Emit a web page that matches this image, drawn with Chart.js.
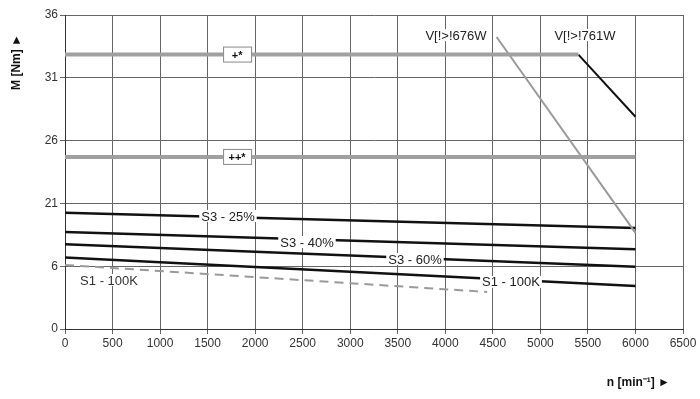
<!DOCTYPE html>
<html>
<head>
<meta charset="utf-8">
<script src="https://cdn.jsdelivr.net/npm/chart.js@4"></script>
<style>
  html, body { margin: 0; padding: 0; background: #fff; }
  #wrap { width: 700px; height: 399px; }
</style>
</head>
<body>
<div id="wrap"><canvas id="myChart" width="700" height="399"></canvas></div>
<script>
// y axis is drawn with evenly spaced grid steps, labelled unevenly (as in the datasheet)
const yTickLabels = ['0', '6', '21', '26', '31', '36'];
const xMax = 6500;

// [rpm, grid step]
const plusStar = [[0, 4.37], [5400, 4.37]];
const plusPlusStar = [[0, 2.74], [6000, 2.74]];
const v676 = [[4540, 4.65], [6000, 1.53]];
const v761 = [[5400, 4.37], [6000, 3.38]];
const s3_25 = [[0, 1.85], [6000, 1.61]];
const s3_40 = [[0, 1.545], [6000, 1.27]];
const s3_60 = [[0, 1.35], [6000, 0.99]];
const s1_100 = [[0, 1.14], [6000, 0.685]];
const s1_100dash = [[0, 1.02], [4440, 0.59]];

// text labels: [text, rpm, grid step, boxed, colour]
const curveLabels = [
    ['S3 - 25%', 1714, 1.80, false, '#222'],
    ['S3 - 40%', 2545, 1.385, false, '#222'],
    ['S3 - 60%', 3681, 1.115, false, '#222'],
    ['S1 - 100K', 4691, 0.75, false, '#222'],
    ['S1 - 100K', 463, 0.78, false, '#333'],
    ['+*', 1810, 4.37, true, '#111'],
    ['++*', 1810, 2.74, true, '#111'],
    ['V[!>!676W', 4112, 4.68, false, '#222'],
    ['V[!>!761W', 5469, 4.68, false, '#222']
];

function pts(arr) { return arr.map(p => ({ x: p[0], y: p[1] })); }

const labelPlugin = {
    id: 'curveLabels',
    afterDatasetsDraw(chart) {
        const ctx = chart.ctx;
        const xs = chart.scales.x, ys = chart.scales.y;
        ctx.save();
        ctx.textAlign = 'center';
        ctx.textBaseline = 'middle';
        curveLabels.forEach(l => {
            const px = xs.getPixelForValue(l[1]);
            const py = ys.getPixelForValue(l[2]);
            if (l[3]) {
                ctx.fillStyle = '#fff';
                ctx.fillRect(px - 14, py - 8, 29, 16);
                ctx.strokeStyle = '#888';
                ctx.lineWidth = 1;
                ctx.strokeRect(px - 14 + 0.5, py - 8 + 0.5, 28, 15);
                ctx.font = 'bold 11px "Liberation Sans", Arial, sans-serif';
            } else {
                ctx.font = '13px "Liberation Sans", Arial, sans-serif';
                const w = ctx.measureText(l[0]).width;
                ctx.fillStyle = '#fff';
                ctx.fillRect(px - w / 2 - 2, py - 6, w + 4, 12);
            }
            ctx.fillStyle = l[4];
            ctx.fillText(l[0], px, py + 1);
        });
        // axis titles
        ctx.fillStyle = '#111';
        ctx.font = 'bold 12px "Liberation Sans", Arial, sans-serif';
        ctx.textAlign = 'right';
        ctx.fillText('n [min\u207B\u00B9] \u25BA', 670, 383);
        ctx.translate(17, 62);
        ctx.rotate(-Math.PI / 2);
        ctx.textAlign = 'center';
        ctx.fillText('M [Nm] \u25BA', 0, 0);
        ctx.restore();
    }
};

const ctx = document.getElementById('myChart').getContext('2d');
new Chart(ctx, {
    type: 'scatter',
    data: {
        datasets: [
            { data: pts(s1_100dash), borderColor: '#9a9a9a', borderWidth: 2, borderDash: [9, 6] },
            { data: pts(plusStar), borderColor: '#a0a0a0', borderWidth: 4 },
            { data: pts(plusPlusStar), borderColor: '#a0a0a0', borderWidth: 4 },
            { data: pts(v676), borderColor: '#9a9a9a', borderWidth: 2 },
            { data: pts(v761), borderColor: '#111', borderWidth: 2 },
            { data: pts(s3_25), borderColor: '#111', borderWidth: 2.5 },
            { data: pts(s3_40), borderColor: '#111', borderWidth: 2.5 },
            { data: pts(s3_60), borderColor: '#111', borderWidth: 2.5 },
            { data: pts(s1_100), borderColor: '#111', borderWidth: 2.5 }
        ].map(d => Object.assign({ showLine: true, pointRadius: 0, fill: false, tension: 0 }, d))
    },
    options: {
        responsive: false,
        animation: false,
        layout: { padding: { left: 0, right: 17, top: 15, bottom: 0 } },
        scales: {
            x: {
                type: 'linear', min: 0, max: xMax,
                afterFit: s => { s.height = 70; },
                grid: { color: '#666', lineWidth: 1, tickLength: 5, drawTicks: true },
                border: { color: '#333' },
                ticks: {
                    stepSize: 500, color: '#333', maxRotation: 0, padding: 2,
                    font: { family: '"Liberation Sans", Arial, sans-serif', size: 12 },
                    callback: v => String(v)
                }
            },
            y: {
                type: 'linear', min: 0, max: yTickLabels.length - 1,
                afterFit: s => { s.width = 65; },
                grid: { color: '#666', lineWidth: 1, tickLength: 5 },
                border: { color: '#333' },
                ticks: {
                    stepSize: 1, color: '#333', padding: 2,
                    font: { family: '"Liberation Sans", Arial, sans-serif', size: 12 },
                    callback: v => yTickLabels[v]
                }
            }
        },
        plugins: {
            legend: { display: false },
            tooltip: { enabled: false }
        }
    },
    plugins: [labelPlugin]
});
</script>
</body>
</html>
